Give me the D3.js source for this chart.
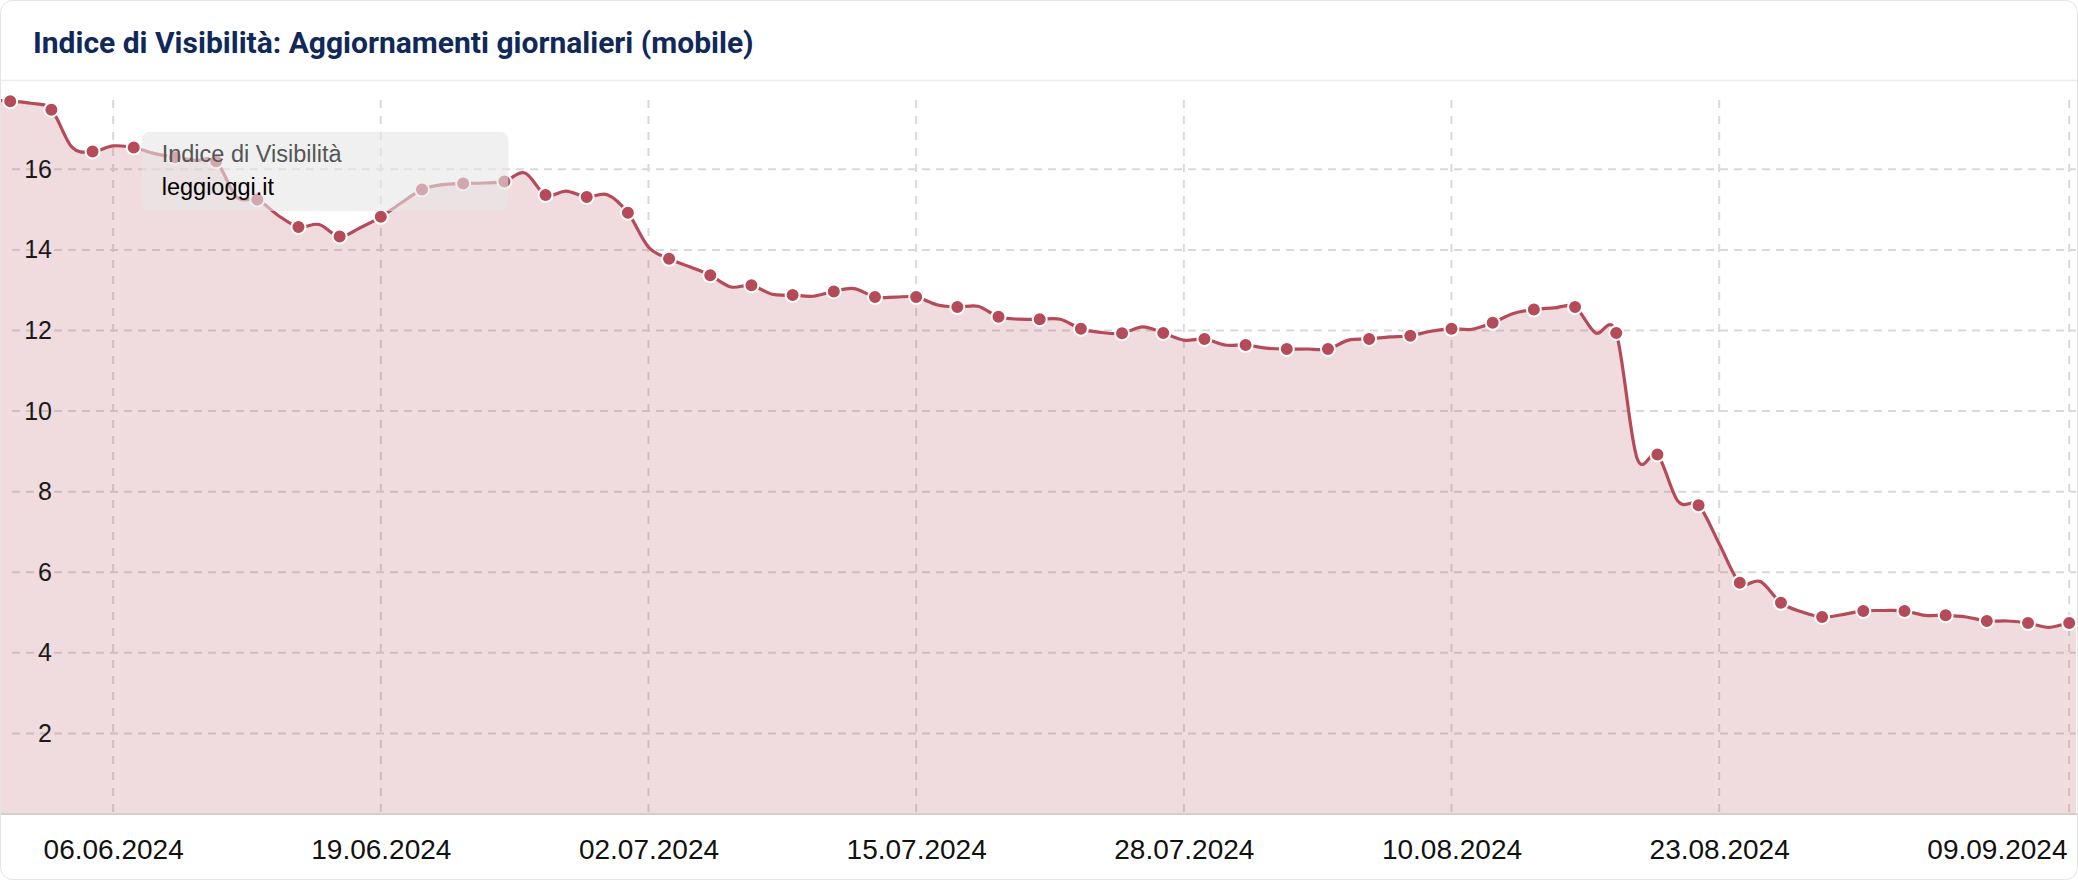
<!DOCTYPE html>
<html>
<head>
<meta charset="utf-8">
<script src="https://cdn.jsdelivr.net/npm/d3@7"></script>
<style>
  html, body { margin: 0; padding: 0; background: #fff; }
  svg { display: block; }
</style>
</head>
<body>
<svg id="chart" width="2078" height="880"></svg>
<script>
// ---- data ----
const title = "Indice di Visibilità: Aggiornamenti giornalieri (mobile)";
const seriesName = "Indice di Visibilità";
const domainName = "leggioggi.it";
const startDate = "2024-05-31";           // first daily value (partly off-chart)
const markerFrom = "2024-06-01";          // markers every second day from here
const markerTo = "2024-09-09";
const values = [
  17.72, 17.69, 17.64, 17.48, 16.55, 16.44, 16.58, 16.54, 16.39, 16.30,
  16.22, 16.20, 15.31, 15.25, 14.86, 14.57, 14.63, 14.33, 14.55, 14.82,
  15.17, 15.50, 15.62, 15.65, 15.66, 15.70, 15.91, 15.36, 15.46, 15.31,
  15.37, 14.92, 14.07, 13.78, 13.58, 13.37, 13.08, 13.12, 12.90, 12.88,
  12.85, 12.97, 13.04, 12.83, 12.83, 12.83, 12.64, 12.58, 12.60, 12.34,
  12.28, 12.28, 12.28, 12.04, 11.95, 11.93, 12.09, 11.94, 11.76, 11.79,
  11.64, 11.64, 11.56, 11.54, 11.54, 11.54, 11.76, 11.79, 11.84, 11.87,
  11.98, 12.04, 12.03, 12.19, 12.42, 12.52, 12.56, 12.58, 11.94, 11.94,
  8.85, 8.92, 7.76, 7.66, 6.71, 5.74, 5.77, 5.24, 5.02, 4.89,
  4.95, 5.04, 5.05, 5.04, 4.93, 4.93, 4.89, 4.79, 4.79, 4.74,
  4.63, 4.74, 4.78
];
const xTickLabels = ["06.06.2024", "19.06.2024", "02.07.2024", "15.07.2024",
                     "28.07.2024", "10.08.2024", "23.08.2024", "09.09.2024"];
const yTickValues = [2, 4, 6, 8, 10, 12, 14, 16];

// ---- setup ----
const W = 2078, H = 880;
const parseISO = d3.utcParse("%Y-%m-%d");
const parseDMY = d3.utcParse("%d.%m.%Y");
const fmtDMY = d3.utcFormat("%d.%m.%Y");
const t0 = parseISO(startDate);
const data = values.map((v, i) => ({ date: d3.utcDay.offset(t0, i), value: v }));
const mFrom = parseISO(markerFrom), mTo = parseISO(markerTo);
const markers = data.filter(d => d.date >= mFrom && d.date <= mTo &&
  Math.round((d.date - mFrom) / 864e5) % 2 === 0);
const tickDates = xTickLabels.map(parseDMY);

const x = d3.scaleUtc().domain([mFrom, mTo]).range([10.2, 2069.2]);
const y = d3.scaleLinear().domain([0, d3.max(values)]).range([814, 100]);

const svg = d3.select("#chart");
const red = "#b54a59";

// card
svg.append("rect").attr("x", 0.5).attr("y", 0.5).attr("width", W - 1).attr("height", H - 1)
  .attr("rx", 12).attr("fill", "#fff").attr("stroke", "#e4e4e4");
svg.append("line").attr("x1", 1).attr("x2", W - 1).attr("y1", 80.5).attr("y2", 80.5)
  .attr("stroke", "#ececec").attr("stroke-width", 1.5);
svg.append("text").attr("x", 33).attr("y", 53)
  .attr("font-family", "Roboto, 'Noto Sans', sans-serif").attr("font-weight", 700)
  .attr("font-size", 30).attr("fill", "#10295a").text(title);

const defs = svg.append("defs");
defs.append("clipPath").attr("id", "plotclip").append("rect")
  .attr("x", 1).attr("y", 82).attr("width", W - 3).attr("height", 733);

const plot = svg.append("g").attr("clip-path", "url(#plotclip)");

// grid
plot.append("g").selectAll("line").data(yTickValues).join("line")
  .attr("x1", 12).attr("x2", W).attr("y1", d => y(d)).attr("y2", d => y(d))
  .attr("stroke", "#d9d9d9").attr("stroke-width", 2).attr("stroke-dasharray", "8,6");
plot.append("g").selectAll("line").data(tickDates).join("line")
  .attr("x1", d => x(d)).attr("x2", d => x(d)).attr("y1", 100).attr("y2", 814)
  .attr("stroke", "#d9d9d9").attr("stroke-width", 2).attr("stroke-dasharray", "8,8");

// area + line
const curve = d3.curveCardinal.tension(0);
plot.append("path").datum(data)
  .attr("d", d3.area().x(d => x(d.date)).y0(y(0)).y1(d => y(d.value)).curve(curve))
  .attr("fill", "#b34a58").attr("fill-opacity", 0.2);
plot.append("path").datum(data)
  .attr("d", d3.line().x(d => x(d.date)).y(d => y(d.value)).curve(curve))
  .attr("fill", "none").attr("stroke", red).attr("stroke-width", 3.2);

// x axis line
svg.append("line").attr("x1", 1).attr("x2", W - 1).attr("y1", 814).attr("y2", 814)
  .attr("stroke", "#d6cbcd").attr("stroke-width", 2);

// markers
svg.append("g").selectAll("circle").data(markers).join("circle")
  .attr("cx", d => x(d.date)).attr("cy", d => y(d.value)).attr("r", 7)
  .attr("fill", red).attr("stroke", "#fff").attr("stroke-width", 2);

// y axis labels
const yAxis = svg.append("g").attr("transform", "translate(58,0)")
  .call(d3.axisLeft(y).tickValues(yTickValues).tickSize(0).tickPadding(6));
yAxis.select(".domain").remove();
yAxis.selectAll("text").attr("font-family", "'Liberation Sans', Arial, sans-serif")
  .attr("font-size", 25).attr("fill", "#1a1a1a");

// x axis labels
const xAxis = svg.append("g").attr("transform", "translate(0,814)")
  .call(d3.axisBottom(x).tickValues(tickDates).tickFormat(fmtDMY).tickSize(0).tickPadding(25));
xAxis.select(".domain").remove();
xAxis.selectAll("text").attr("font-family", "'Liberation Sans', Arial, sans-serif")
  .attr("font-size", 28).attr("fill", "#111");
xAxis.selectAll(".tick").filter((d, i, n) => i === n.length - 1).select("text")
  .attr("text-anchor", "end").attr("x", (W - 11) - x(tickDates[tickDates.length - 1]));

// tooltip
const tip = svg.append("g").attr("transform", "translate(141.7,131.7)");
tip.append("rect").attr("width", 366.6).attr("height", 79.3).attr("rx", 8)
  .attr("fill", "#e6e6e6").attr("fill-opacity", 0.6);
tip.append("text").attr("x", 20).attr("y", 30.6)
  .attr("font-family", "'Liberation Sans', Arial, sans-serif").attr("font-size", 23.5)
  .attr("fill", "#555").text(seriesName);
tip.append("text").attr("x", 20).attr("y", 63.3)
  .attr("font-family", "'Liberation Sans', Arial, sans-serif").attr("font-size", 23.5)
  .attr("fill", "#000").text(domainName);
</script>
</body>
</html>
